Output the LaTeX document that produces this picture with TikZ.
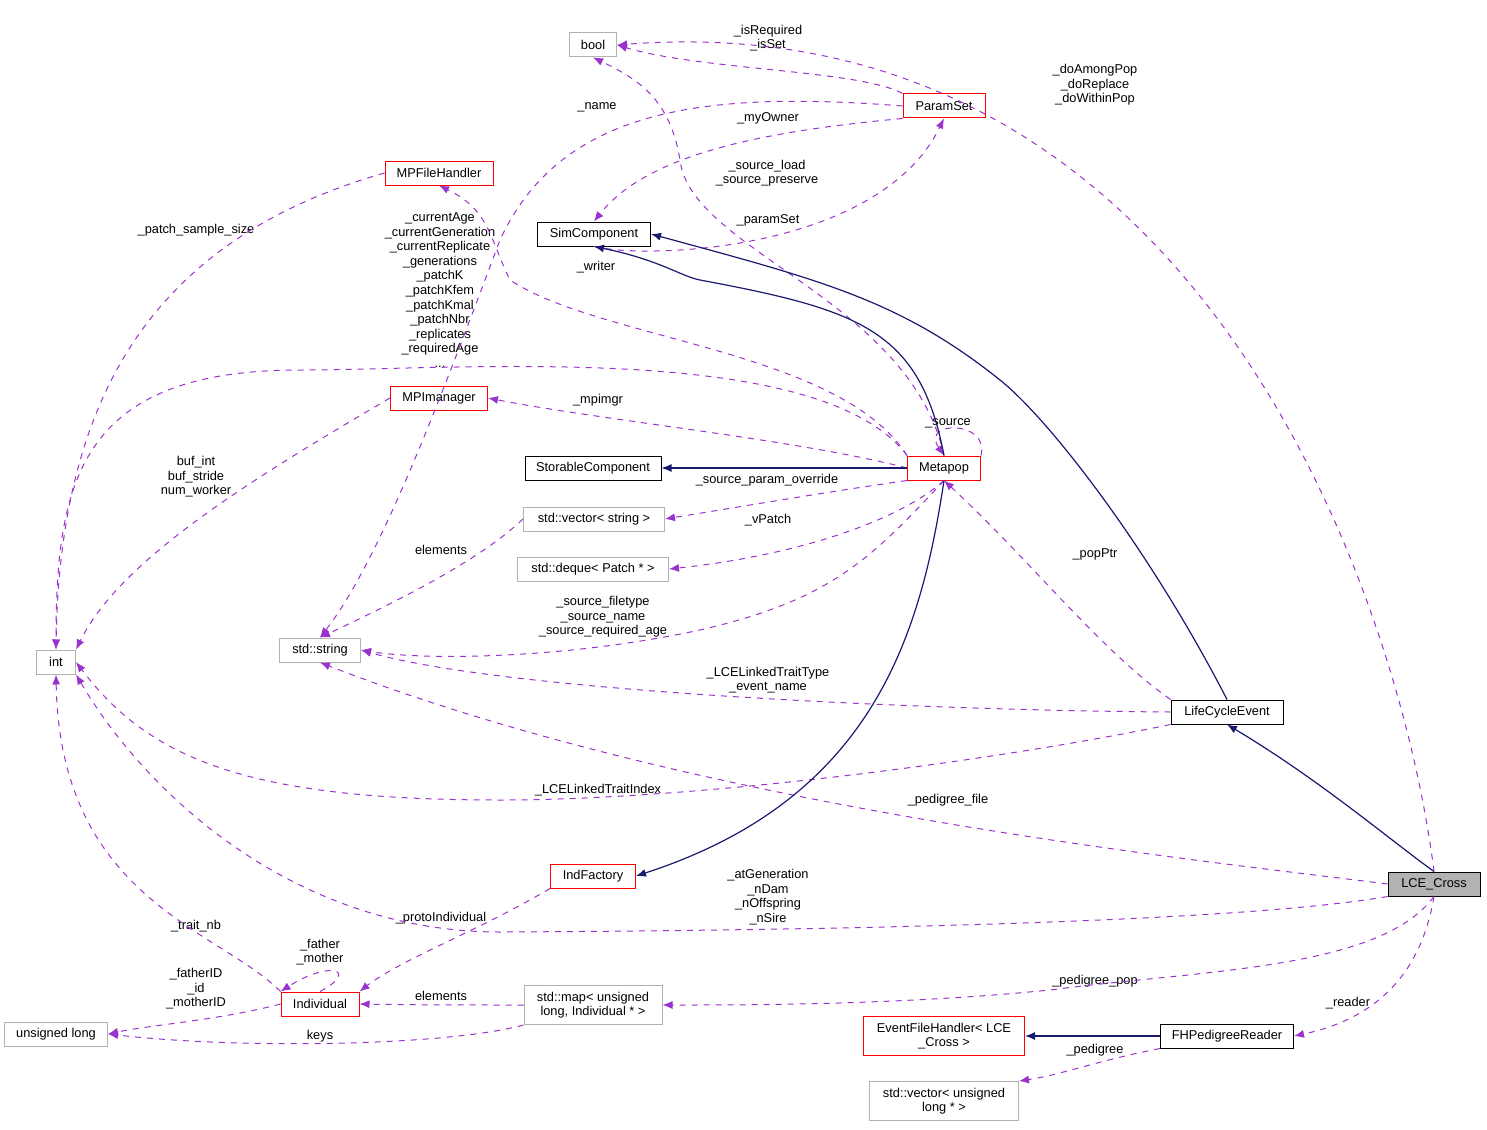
\documentclass[tikz,border=0pt]{standalone}
\usepackage{fontspec}
\setmainfont{Liberation Sans}
\usetikzlibrary{arrows.meta}
\definecolor{dep}{HTML}{9A32CD}
\definecolor{inh}{HTML}{191970}
\begin{document}
\begin{tikzpicture}[x=0.5pt,y=-0.5pt,
  every node/.style={font=\fontsize{6.4}{7.3}\selectfont},
  box/.style={draw=#1,fill=white,inner sep=1pt,minimum height=12pt,align=center,line width=0.5pt},
  box/.default=black,
  lab/.style={align=center,inner sep=0pt},
  d/.style={draw=dep,dashed,line width=0.5pt,-{Latex[length=5pt,width=4pt]}},
  h/.style={draw=inh,line width=0.6pt,-{Latex[length=5pt,width=4pt]}}]
\useasboundingbox (0,0) rectangle (1487,1129);
% nodes
\node[box=gray!60,minimum width=23.5pt] (bool) at (593,45) {bool};
\node[box=red,minimum width=41pt] (ps) at (944,106) {ParamSet};
\node[box=red,minimum width=54pt] (mpf) at (439,173) {MPFileHandler};
\node[box,minimum width=56.5pt] (sc) at (594,234) {SimComponent};
\node[box=red,minimum width=48.5pt] (mpi) at (439,398) {MPImanager};
\node[box,minimum width=68pt] (stc) at (593,468) {StorableComponent};
\node[box=red,minimum width=36.5pt] (mp) at (944,468) {Metapop};
\node[box=gray!60,minimum width=70.5pt] (vs) at (594,519) {std::vector< string >};
\node[box=gray!60,minimum width=75.5pt] (dq) at (593,569) {std::deque< Patch * >};
\node[box=gray!60,minimum width=19.5pt] (int) at (56,662) {int};
\node[box=gray!60,minimum width=40.5pt] (str) at (320,650) {std::string};
\node[box,minimum width=56pt] (lce) at (1227,712) {LifeCycleEvent};
\node[box=red,minimum width=42.5pt] (if) at (593,876) {IndFactory};
\node[box,fill=gray!60,minimum width=46pt] (lc) at (1434,884) {LCE\_Cross};
\node[box=red,minimum width=39pt] (ind) at (320,1004) {Individual};
\node[box=gray!60,minimum width=69pt,minimum height=19.5pt] (map) at (593,1005) {std::map< unsigned\\long, Individual * >};
\node[box=gray!60,minimum width=51.5pt] (ul) at (56,1034) {unsigned long};
\node[box=red,minimum width=80.5pt,minimum height=19.5pt] (efh) at (944,1036) {EventFileHandler< LCE\\\_Cross >};
\node[box,minimum width=66.5pt] (fh) at (1227,1036) {FHPedigreeReader};
\node[box=gray!60,minimum width=74.5pt,minimum height=19.5pt] (vul) at (944,1101) {std::vector< unsigned\\long * >};
% labels
\node[lab] (l1) at (1095,85) {\_doAmongPop\\\_doReplace\\\_doWithinPop};
\node[lab] (l2) at (768,38) {\_isRequired\\\_isSet};
\node[lab] (l3) at (597,107) {\_name};
\node[lab] (l4) at (768,118) {\_myOwner};
\node[lab] (l5) at (767,173) {\_source\_load\\\_source\_preserve};
\node[lab] (l6) at (768,220) {\_paramSet};
\node[lab] (l7) at (196,230) {\_patch\_sample\_size};
\node[lab] (l8) at (596,267) {\_writer};
\node[lab] (l9) at (440,290) {\_currentAge\\\_currentGeneration\\\_currentReplicate\\\_generations\\\_patchK\\\_patchKfem\\\_patchKmal\\\_patchNbr\\\_replicates\\\_requiredAge\\...};
\node[lab] (l10) at (598,400) {\_mpimgr};
\node[lab] (l11) at (196,477) {buf\_int\\buf\_stride\\num\_worker};
\node[lab] (l12) at (948,423) {\_source};
\node[lab] (l13) at (767,480) {\_source\_param\_override};
\node[lab] (l14) at (768,520) {\_vPatch};
\node[lab] (l15) at (603,617) {\_source\_filetype\\\_source\_name\\\_source\_required\_age};
\node[lab] (l16) at (441,550) {elements};
\node[lab] (l17) at (1095,554) {\_popPtr};
\node[lab] (l18) at (768,680) {\_LCELinkedTraitType\\\_event\_name};
\node[lab] (l19) at (598,790) {\_LCELinkedTraitIndex};
\node[lab] (l20) at (948,800) {\_pedigree\_file};
\node[lab] (l21) at (768,897) {\_atGeneration\\\_nDam\\\_nOffspring\\\_nSire};
\node[lab] (l22) at (1095,981) {\_pedigree\_pop};
\node[lab] (l23) at (1348,1003) {\_reader};
\node[lab] (l24) at (441,918) {\_protoIndividual};
\node[lab] (l25) at (196,926) {\_trait\_nb};
\node[lab] (l26) at (320,952) {\_father\\\_mother};
\node[lab] (l27) at (196,989) {\_fatherID\\\_id\\\_motherID};
\node[lab] (l28) at (441,996) {elements};
\node[lab] (l29) at (320,1036) {keys};
\node[lab] (l30) at (1095,1050) {\_pedigree};
% dependency edges
\draw[d] (lc.north) .. controls (1400,600) and (1200,0) .. (bool.east);
\draw[d] (ps.north west) .. controls (860,70) and (700,70) .. (bool.east);
\draw[d] (ps.west) .. controls (700,90) and (560,110) .. (500,240) .. controls (440,400) and (380,560) .. (str.north);
\draw[d] (ps.south west) .. controls (780,130) and (650,150) .. (sc.north);
\draw[d] (mp.north) .. controls (910,300) and (690,250) .. (680,160) .. controls (670,100) and (640,80) .. (bool.south);
\draw[d] (sc.south) .. controls (650,260) and (880,250) .. (ps.south);
\draw[d] (mpf.west) .. controls (150,240) and (60,400) .. (int.north);
\draw[d] (mp.north west) .. controls (840,350) and (600,340) .. (510,280) .. controls (490,240) and (490,210) .. (mpf.south);
\draw[d] (mp.north west) .. controls (820,340) and (460,370) .. (300,370) .. controls (80,370) and (56,480) .. (int.north);
\draw[d] (mp.west) .. controls (800,440) and (600,420) .. (mpi.east);
\draw[d] (mpi.west) .. controls (250,480) and (120,560) .. (int.north east);
\draw[d] (mp.north east) .. controls (990,420) and (920,420) .. (mp.north);
\draw[d] (mp.south west) .. controls (840,490) and (750,505) .. (vs.east);
\draw[d] (mp.south) .. controls (900,520) and (800,555) .. (dq.east);
\draw[d] (mp.south) .. controls (870,560) and (830,600) .. (700,630) .. controls (560,660) and (420,660) .. (str.east);
\draw[d] (vs.west) .. controls (480,560) and (400,600) .. (str.north);
\draw[d] (lce.north west) .. controls (1100,650) and (1030,560) .. (mp.south);
\draw[d] (lce.west) .. controls (900,710) and (500,690) .. (str.east);
\draw[d] (lce.south west) .. controls (1000,760) and (700,800) .. (500,800) .. controls (250,800) and (150,760) .. (int.east);
\draw[d] (lc.west) .. controls (1200,860) and (700,810) .. (str.south);
\draw[d] (lc.south west) .. controls (1250,920) and (900,930) .. (500,932) .. controls (300,932) and (150,800) .. (int.south east);
\draw[d] (lc.south) .. controls (1380,970) and (1200,970) .. (1050,990) .. controls (900,1005) and (750,1005) .. (map.east);
\draw[d] (lc.south) .. controls (1420,980) and (1370,1020) .. (fh.east);
\draw[d] (if.south west) .. controls (480,930) and (400,960) .. (ind.north east);
\draw[d] (ind.north west) .. controls (220,930) and (60,900) .. (int.south);
\draw[d] (ind.north) .. controls (360,970) and (330,960) .. (ind.north west);
\draw[d] (ind.west) .. controls (220,1020) and (150,1025) .. (ul.east);
\draw[d] (map.west) .. controls (480,1005) and (420,1005) .. (ind.east);
\draw[d] (map.south west) .. controls (450,1045) and (250,1050) .. (ul.east);
\draw[d] (fh.south west) .. controls (1100,1060) and (1060,1075) .. (vul.north east);
% inheritance
\draw[h] (mp.west) -- (stc.east);
\draw[h] (mp.north) .. controls (920,330) and (860,310) .. (700,280) .. controls (680,276) and (660,260) .. (sc.south);
\draw[h] (lce.north) .. controls (1150,550) and (1050,420) .. (1000,380) .. controls (900,300) and (820,280) .. (sc.east);
\draw[h] (mp.south) .. controls (920,640) and (870,800) .. (if.east);
\draw[h] (lc.north) .. controls (1390,840) and (1320,780) .. (lce.south);
\draw[h] (fh.west) -- (efh.east);
\end{tikzpicture}
\end{document}
